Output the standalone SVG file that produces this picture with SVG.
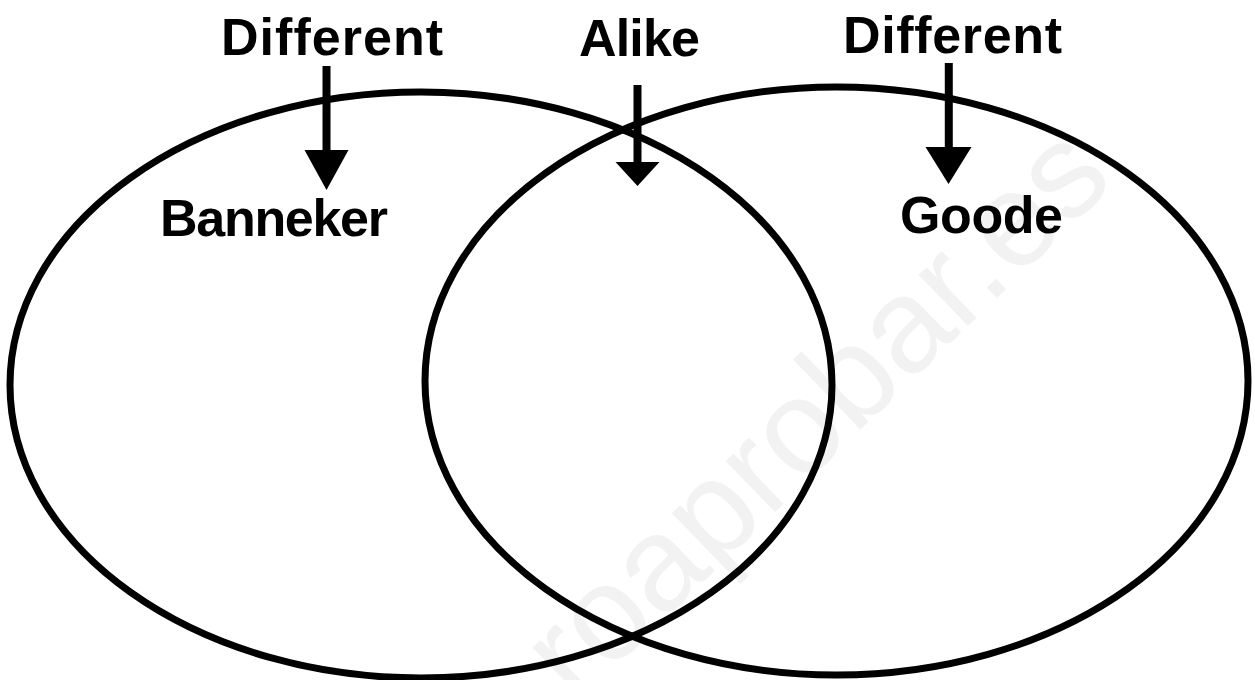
<svg xmlns="http://www.w3.org/2000/svg" width="1255" height="680" viewBox="0 0 1255 680">
  <style>
    .ring { fill: none; stroke: #000; stroke-width: 7; }
    .label { font-family: "Liberation Sans", Arial, sans-serif; font-weight: bold; font-size: 52px; fill: #000; }
    .shaft { stroke: #000; stroke-width: 8; fill: none; }
    .head { fill: #000; stroke: none; }
    .wm { font-family: "Liberation Sans", Arial, sans-serif; font-size: 134px; fill: #f2f2f2; }
  </style>
  <rect x="0" y="0" width="1255" height="680" fill="#fff"/>
  <text class="wm" transform="translate(575.3,704.9) rotate(-44)">roaprobar.es</text>

  <g id="left-set">
    <ellipse class="ring" cx="421" cy="385" rx="411" ry="293"/>
    <text class="label" x="160" y="236" textLength="228" lengthAdjust="spacing">Banneker</text>
  </g>
  <g id="right-set">
    <ellipse class="ring" cx="836.5" cy="381" rx="411.5" ry="294"/>
    <text class="label" x="900" y="233" textLength="163" lengthAdjust="spacing">Goode</text>
  </g>
  <g id="label-different-left">
    <text class="label" x="221" y="55" textLength="222" lengthAdjust="spacing">Different</text>
  </g>
  <g id="label-alike">
    <text class="label" x="579" y="56" textLength="121" lengthAdjust="spacing">Alike</text>
  </g>
  <g id="label-different-right">
    <text class="label" x="843" y="53" textLength="219" lengthAdjust="spacing">Different</text>
  </g>

  <g id="connectors">
    <line class="shaft" x1="326.5" y1="66" x2="326.5" y2="152"/>
    <polygon class="head" points="304.5,150 348.5,150 326.5,190"/>
    <line class="shaft" x1="637.5" y1="85" x2="637.5" y2="164"/>
    <polygon class="head" points="615.5,162 659.5,162 637.5,186"/>
    <line class="shaft" x1="948.8" y1="63" x2="948.8" y2="149"/>
    <polygon class="head" points="925.5,147 971.5,147 948.5,184"/>
  </g>
</svg>
